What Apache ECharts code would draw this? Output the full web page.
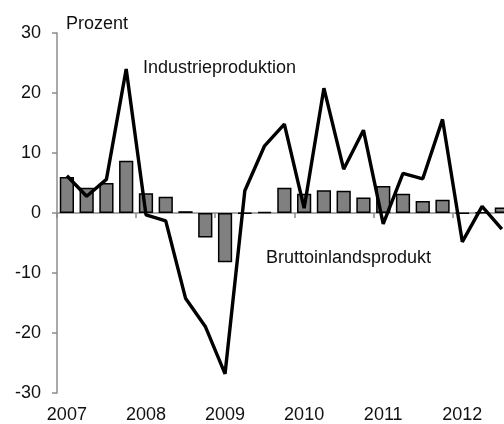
<!DOCTYPE html>
<html>
<head>
<meta charset="utf-8">
<script src="https://cdn.jsdelivr.net/npm/echarts@6/dist/echarts.min.js"></script>
<style>
  html, body { margin: 0; padding: 0; background: #fff; }
  #chart { width: 504px; height: 424px; }
</style>
</head>
<body>
<div id="chart"></div>
<script>
// quarterly categories 2007 Q1 .. 2012 Q4 (the last ones run off the right edge)
var quarters = [
  '2007', '2007Q2', '2007Q3', '2007Q4',
  '2008', '2008Q2', '2008Q3', '2008Q4',
  '2009', '2009Q2', '2009Q3', '2009Q4',
  '2010', '2010Q2', '2010Q3', '2010Q4',
  '2011', '2011Q2', '2011Q3', '2011Q4',
  '2012', '2012Q2', '2012Q3', '2012Q4'
];
// Bruttoinlandsprodukt (bars), Prozent
var bip = [
  6.0, 4.2, 5.0, 8.7,
  3.3, 2.7, 0.3, -4.1,
  -8.2, -0.1, 0.2, 4.2,
  3.2, 3.8, 3.7, 2.6,
  4.5, 3.2, 2.0, 2.2,
  -0.1, 0.1, 0.9, null
];
// Industrieproduktion (line), Prozent
var industrie = [
  6.2, 2.8, 5.6, 24.0,
  -0.3, -1.3, -14.2, -18.9,
  -26.8, 3.7, 11.2, 14.8,
  0.8, 20.8, 7.3, 13.8,
  -1.8, 6.6, 5.7, 15.6,
  -4.8, 1.1, -2.7, null
];
var yTicks = [-30, -20, -10, 0, 10, 20, 30];

var chart = echarts.init(document.getElementById('chart'));
var font = 'Liberation Sans, Arial, sans-serif';
var axisGray = '#8c8c8c';

var option = {
  animation: false,
  textStyle: { fontFamily: font },
  // plot area runs past the right edge of the picture, as in the original
  grid: { left: 57, top: 33, width: 474.5, height: 360, outerBoundsMode: 'none', containLabel: false },
  xAxis: [
    {
      type: 'category',
      data: quarters,
      position: 'bottom',
      axisLine: { onZero: true, lineStyle: { color: axisGray, width: 1.5 } },
      axisTick: { show: true, interval: 3, length: 5, lineStyle: { color: axisGray, width: 1.5 } },
      axisLabel: { show: false },
      splitLine: { show: false }
    },
    {
      type: 'category',
      data: quarters,
      position: 'bottom',
      axisLine: { show: false, onZero: false },
      axisTick: { show: false },
      axisLabel: {
        interval: 3,
        margin: 13,
        fontSize: 18,
        color: '#111',
        fontFamily: font
      },
      splitLine: { show: false }
    }
  ],
  yAxis: {
    type: 'value',
    min: yTicks[0],
    max: yTicks[yTicks.length - 1],
    interval: 10,
    axisLine: { show: true, lineStyle: { color: axisGray, width: 1.5 } },
    axisTick: { show: true, length: 5, lineStyle: { color: axisGray, width: 1.5 } },
    axisLabel: { margin: 16, fontSize: 18, color: '#111', fontFamily: font },
    splitLine: { show: false }
  },
  graphic: [
    { type: 'text', left: 66, top: 15, style: { text: 'Prozent', fontSize: 18, fontFamily: font, fill: '#111' } },
    { type: 'text', left: 143, top: 59, style: { text: 'Industrieproduktion', fontSize: 18, fontFamily: font, fill: '#111' } },
    { type: 'text', left: 266, top: 249, style: { text: 'Bruttoinlandsprodukt', fontSize: 18, fontFamily: font, fill: '#111' } }
  ],
  series: [
    {
      name: 'Bruttoinlandsprodukt',
      type: 'bar',
      data: bip,
      barWidth: '72%',
      itemStyle: { color: '#808080', borderColor: '#000', borderWidth: 1.5 },
      z: 2
    },
    {
      name: 'Industrieproduktion',
      type: 'line',
      data: industrie,
      symbol: 'none',
      lineStyle: { color: '#000', width: 3.4 },
      z: 3
    }
  ]
};

chart.setOption(option);
</script>
</body>
</html>
